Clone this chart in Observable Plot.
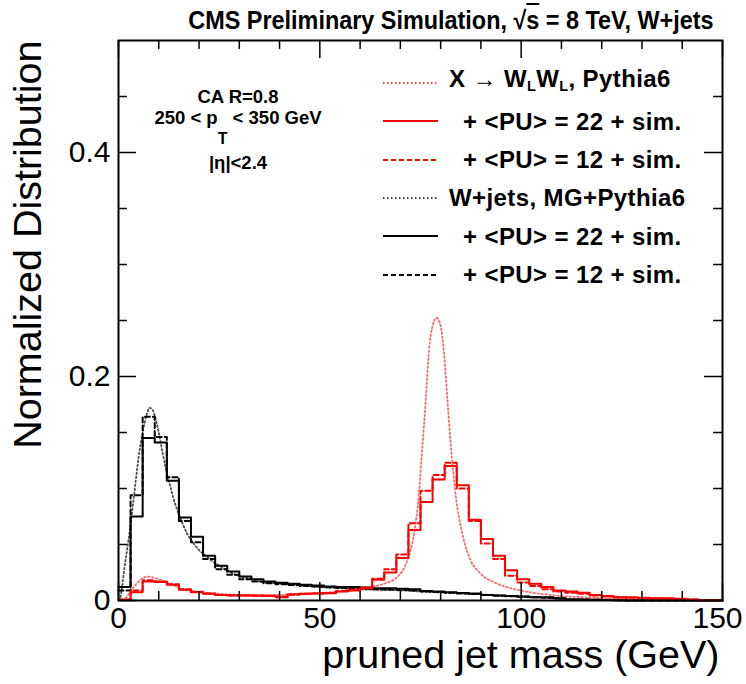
<!DOCTYPE html>
<html><head><meta charset="utf-8">
<script src="https://cdn.jsdelivr.net/npm/d3@7"></script>
<script src="https://cdn.jsdelivr.net/npm/@observablehq/plot@0.6"></script>
<style>
body{margin:0;background:#fff;}
#wrap{position:relative;width:746px;height:684px;overflow:hidden;font-family:"Liberation Sans",Arial,Helvetica,sans-serif;color:#000;}
#wrap > svg{position:absolute;left:0;top:0;}
.ov{position:absolute;white-space:nowrap;line-height:1;font-weight:bold;}
.ov sub{font-size:0.6em;vertical-align:baseline;position:relative;top:0.25em;}
</style></head><body><div id="wrap"></div>
<script>
// ---- data ----
const xEdges = [0,3,6,9,12,15,18,21,24,27,30,33,36,39,42,45,48,51,54,57,60,63,66,69,72,75,78,81,84,87,90,93,96,99,102,105,108,111,114,117,120,123,126,129,132,135,138,141,144,147];
const xMax = 150;
const blackSolid = [0.012,0.075,0.145,0.141,0.107,0.074,0.057,0.040,0.031,0.026,
 0.0214,0.019,0.017,0.0158,0.015,0.014,0.0135,0.0125,0.012,0.012,
 0.0115,0.011,0.011,0.0105,0.010,0.0085,0.008,0.0074,0.0068,0.0062,
 0.005,0.0045,0.004,0.0036,0.003,0.0028,0.002,0.001,0.0008,0.0006,
 0.0005,0.0003,0,0,0,0,0,0,0,0];
const blackDashed = [0.009,0.094,0.164,0.146,0.110,0.071,0.052,0.037,0.028,0.023,
 0.019,0.017,0.0155,0.0145,0.0138,0.013,0.0125,0.0118,0.0112,0.011,
 0.0105,0.010,0.0098,0.0095,0.009,0.008,0.0075,0.007,0.0062,0.0058,
 0.0048,0.0042,0.0037,0.0033,0.0028,0.0025,0.0018,0.001,0.0008,0.0006,
 0.0004,0.0003,0,0,0,0,0,0,0,0];
const redSolid = [0.0006,0.0074,0.017,0.0165,0.014,0.0095,0.0074,0.006,0.0048,0.0045,
 0.0045,0.0042,0.004,0.003,0.0055,0.006,0.0063,0.0065,0.008,0.009,
 0.011,0.0185,0.025,0.038,0.063,0.088,0.108,0.120,0.103,0.072,
 0.055,0.040,0.027,0.019,0.015,0.012,0.009,0.008,0.007,0.005,
 0.004,0.003,0.0028,0.0025,0.002,0.002,0.0015,0.001,0,0];
const redDashed = [0.001,0.009,0.018,0.017,0.0145,0.010,0.0078,0.0063,0.005,0.0047,
 0.0045,0.0044,0.0042,0.0035,0.0052,0.006,0.0062,0.0068,0.0085,0.0095,
 0.0115,0.0195,0.028,0.041,0.069,0.098,0.112,0.123,0.100,0.071,
 0.051,0.037,0.022,0.016,0.013,0.010,0.008,0.007,0.006,0.0045,
 0.0035,0.0028,0.0025,0.002,0.0018,0.0015,0.0012,0.0008,0,0];
const blackDotX = [0.5,1,1.5,2,3,4,5,6,7,7.7,8.5,9,10,11,12,13,14,15,16,17,18.7,20,22,23,25,27,29,31,33,35,39,46,50,55,60,65,70,75,80,85,90,95,100,105,110,115,120,125,130];
const blackDotY = [0.003,0.015,0.03,0.042,0.068,0.098,0.128,0.150,0.166,0.172,0.170,0.165,0.150,0.131,0.114,0.100,0.087,0.077,0.068,0.060,0.0506,0.045,0.039,0.036,0.031,0.027,0.023,0.021,0.019,0.017,0.0155,0.0134,0.012,0.011,0.010,0.0095,0.009,0.008,0.0072,0.0064,0.0055,0.0045,0.0035,0.0027,0.0018,0.0008,0.0004,0.0001,0];
const redDotX = [1,2,3,4,5,6,7.5,9,10,12,14,16,18,20,25,30,35,40,45,50,55,60,62.6,65.9,69.2,71.7,73.4,74.6,75.4,76.3,77.1,78,79,80,80.8,81.7,82.5,83.7,85.4,87.5,90,94.1,99.9,104.8,110,115,120,125,130,135,140,145,148];
const redDotY = [0,0.003,0.008,0.013,0.017,0.020,0.0214,0.020,0.019,0.016,0.013,0.010,0.0085,0.0075,0.006,0.005,0.0048,0.005,0.0058,0.0068,0.008,0.010,0.012,0.015,0.0208,0.0357,0.0595,0.095,0.134,0.1786,0.223,0.245,0.2524,0.245,0.223,0.1786,0.14,0.095,0.0595,0.0357,0.0238,0.015,0.0089,0.006,0.004,0.003,0.0022,0.0015,0.001,0.0008,0.0005,0.0003,0];
const xTickLabels = [0,50,100,150];
const xMinorTicks = [10,20,30,40,60,70,80,90,110,120,130,140];
const yTickValues = [0,0.2,0.4];
const yTickLabels = ["0","0.2","0.4"];
const yMinorTicks = [0.05,0.1,0.15,0.25,0.3,0.35,0.45];
const title = "CMS Preliminary Simulation, \u221As = 8 TeV, W+jets";
const xTitle = "pruned jet mass (GeV)";
const yTitle = "Normalized Distribution";
const infoLines = ["CA R=0.8", "250 < p<sub>T</sub> < 350 GeV", "|\u03B7|<2.4"];
const legendLabels = ["X \u2192 W<sub>L</sub>W<sub>L</sub>, Pythia6", "+ &lt;PU&gt; = 22 + sim.", "+ &lt;PU&gt; = 12 + sim.", "W+jets, MG+Pythia6", "+ &lt;PU&gt; = 22 + sim.", "+ &lt;PU&gt; = 12 + sim."];
const legendColors = ["#ff0000","#ff0000","#ff0000","#000000","#000000","#000000"];
const legendStyles = ["dot","solid","dash","dot","solid","dash"];

// ---- build ----
const dashOf = {solid: null, dash: "5,3", dot: "1.5,2.5"};
function hist(vals){ const r = xEdges.map((x,i)=>({x, y: vals[i]})); r.push({x: xMax, y: vals[vals.length-1]}); return r; }
function pts(X, Y){ return X.map((x,i)=>({x, y: Y[i]})); }
const FH = 560, FW = 604;
const lastX = xTickLabels[xTickLabels.length - 1];

const chart = Plot.plot({
  width: 746, height: 684,
  marginLeft: 118, marginRight: 24, marginTop: 40, marginBottom: 84,
  x: {domain: [0, 150]},
  y: {domain: [0, 0.5]},
  style: {fontFamily: '"Liberation Sans", Arial, Helvetica, sans-serif', background: "transparent", color: "#000"},
  marks: [
    Plot.line(pts(blackDotX, blackDotY), {x: "x", y: "y", stroke: "#222", strokeOpacity: 0.8, strokeWidth: 1.8, strokeDasharray: dashOf.dot, curve: "monotone-x"}),
    Plot.line(hist(blackDashed), {x: "x", y: "y", curve: "step-after", stroke: "#000", strokeWidth: 2, strokeDasharray: dashOf.dash}),
    Plot.line(hist(blackSolid), {x: "x", y: "y", curve: "step-after", stroke: "#000", strokeWidth: 2}),
    Plot.line(pts(redDotX, redDotY), {x: "x", y: "y", stroke: "#ff0000", strokeOpacity: 0.6, strokeWidth: 1.8, strokeDasharray: dashOf.dot, curve: "monotone-x"}),
    Plot.line(hist(redDashed), {x: "x", y: "y", curve: "step-after", stroke: "#ff0000", strokeWidth: 2, strokeDasharray: dashOf.dash}),
    Plot.line(hist(redSolid), {x: "x", y: "y", curve: "step-after", stroke: "#ff0000", strokeWidth: 2}),
    Plot.tickX(xMinorTicks, {x: d => d, insetTop: FH - 9, strokeWidth: 1.5}),
    Plot.tickX(xMinorTicks, {x: d => d, insetBottom: FH - 9, strokeWidth: 1.5}),
    Plot.tickX(xTickLabels, {x: d => d, insetTop: FH - 18, strokeWidth: 1.5}),
    Plot.tickX(xTickLabels, {x: d => d, insetBottom: FH - 18, strokeWidth: 1.5}),
    Plot.tickY(yMinorTicks, {y: d => d, insetRight: FW - 9, strokeWidth: 1.5}),
    Plot.tickY(yMinorTicks, {y: d => d, insetLeft: FW - 9, strokeWidth: 1.5}),
    Plot.tickY(yTickValues, {y: d => d, insetRight: FW - 18, strokeWidth: 1.5}),
    Plot.tickY(yTickValues, {y: d => d, insetLeft: FW - 18, strokeWidth: 1.5}),
    Plot.frame({stroke: "#000", strokeWidth: 2}),
    Plot.axisX({ticks: xTickLabels.filter(d => d !== lastX), tickSize: 0, tickPadding: 6, fontSize: 30, label: null, tickFormat: d => String(d)}),
    Plot.axisX({ticks: [lastX], tickSize: 0, tickPadding: 6, fontSize: 30, label: null, dx: -5, tickFormat: d => String(d)}),
    Plot.axisY({ticks: yTickValues, tickSize: 0, tickPadding: 8, fontSize: 30, label: null, tickFormat: (d, i) => yTickLabels[i]}),
    Plot.text([xTitle], {text: d => d, frameAnchor: "bottom-right", dy: 55, dx: -3, textAnchor: "end", lineAnchor: "middle", fontSize: 39.5}),
    Plot.text([yTitle], {text: d => d, frameAnchor: "top-left", rotate: -90, dx: -90, textAnchor: "end", lineAnchor: "middle", fontSize: 39.5})
  ]
});
const wrap = document.getElementById("wrap");
wrap.appendChild(chart);

// title
const t = document.createElement("div");
t.className = "ov";
t.style.cssText = "right:32px;top:7px;font-size:26px;transform:scaleX(0.9);transform-origin:right center;";
t.innerHTML = title.replace("\u221As", "\u221A<span style='text-decoration:overline'>s</span>");
wrap.appendChild(t);

// info box
const infoBase = [103.3, 125, 170];
infoLines.forEach((s, i) => {
  const d = document.createElement("div");
  d.className = "ov";
  d.style.cssText = `left:128px;width:220px;text-align:center;font-size:18.5px;top:${infoBase[i] - 15.7}px;`;
  d.innerHTML = s;
  if (i === 1) d.querySelector("sub").style.cssText = "font-size:16px;top:20px;";
  wrap.appendChild(d);
});

// legend
legendLabels.forEach((s, i) => {
  const ly = 83 + i * 38.3;
  const ns = "http://www.w3.org/2000/svg";
  const sv = document.createElementNS(ns, "svg");
  sv.setAttribute("width", 58); sv.setAttribute("height", 8);
  sv.style.cssText = `position:absolute;left:382px;top:${ly - 4}px;`;
  const ln = document.createElementNS(ns, "line");
  ln.setAttribute("x1", 1); ln.setAttribute("x2", 56); ln.setAttribute("y1", 4); ln.setAttribute("y2", 4);
  ln.setAttribute("stroke", legendColors[i]); ln.setAttribute("stroke-width", 2);
  if (dashOf[legendStyles[i]]) ln.setAttribute("stroke-dasharray", dashOf[legendStyles[i]]);
  if (legendStyles[i] === "dot") ln.setAttribute("stroke-opacity", 0.75);
  sv.appendChild(ln);
  wrap.appendChild(sv);
  const d = document.createElement("div");
  d.className = "ov";
  const indent = (i === 0 || i === 3) ? 449 : 463;
  const base = i === 0 ? ly + 4.5 : ly + 8.6;
  d.style.cssText = `left:${indent}px;top:${base - 20.3}px;font-size:24px;letter-spacing:0.4px;`;
  d.innerHTML = s;
  wrap.appendChild(d);
});
</script></body></html>
